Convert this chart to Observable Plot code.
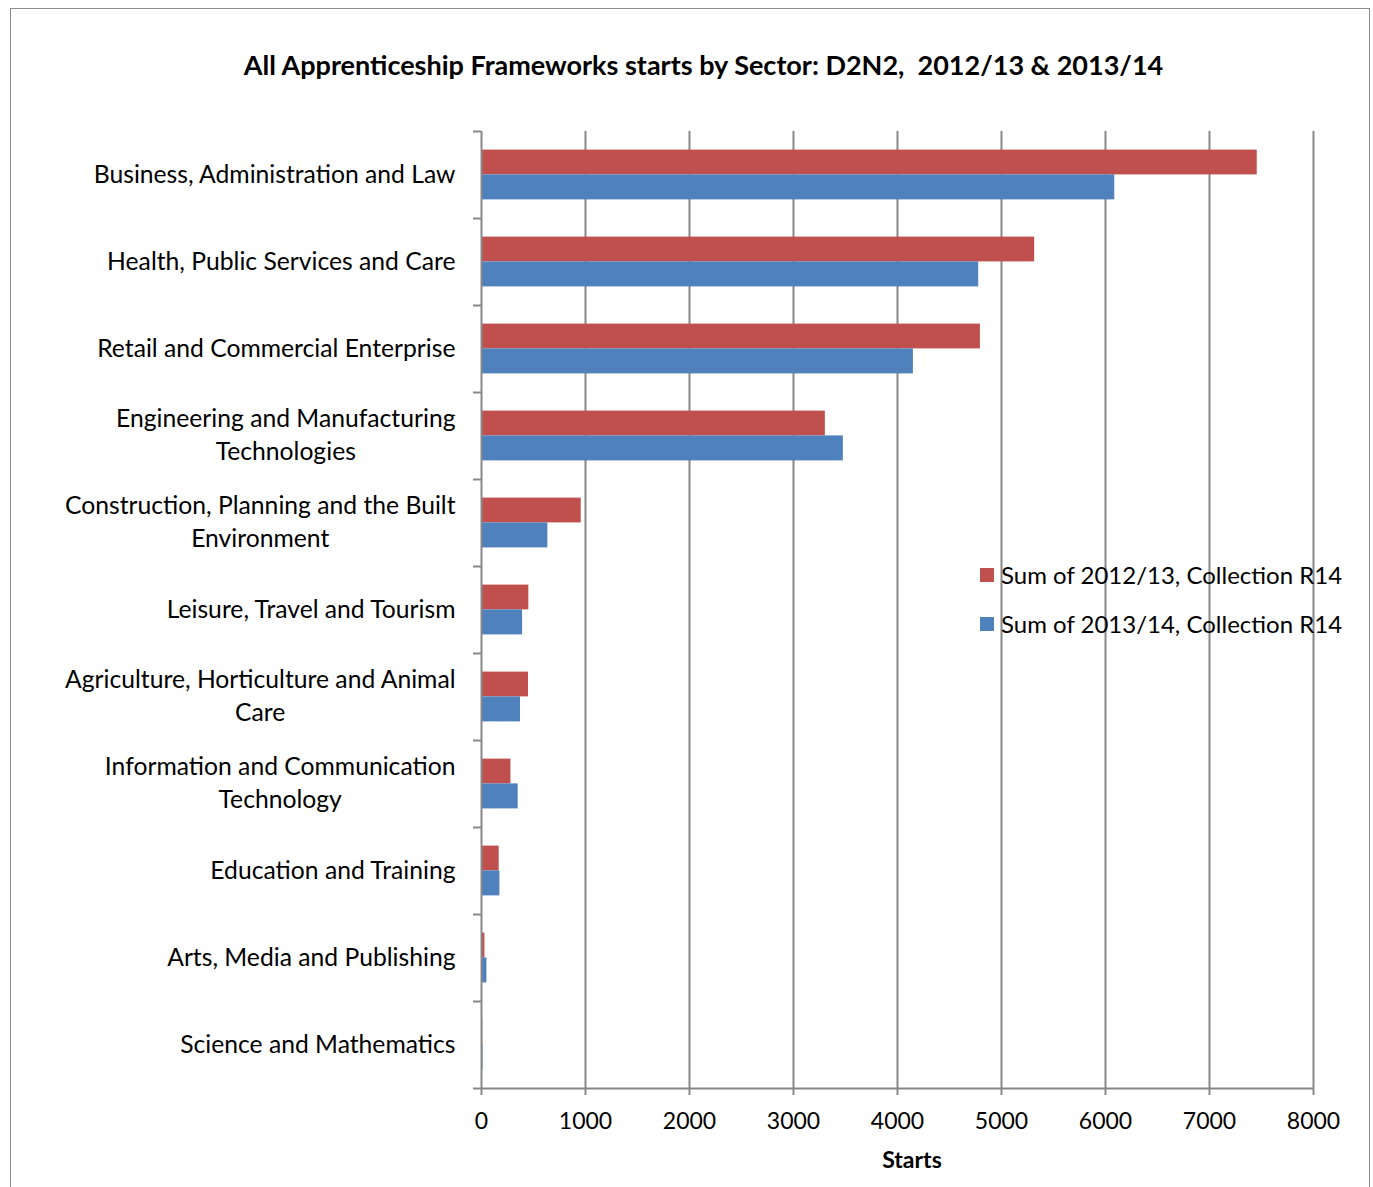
<!DOCTYPE html>
<html>
<head>
<meta charset="utf-8">
<script src="https://cdn.jsdelivr.net/npm/d3@7"></script>
<script src="https://cdn.jsdelivr.net/npm/@observablehq/plot@0.6"></script>
<style>
  html, body { margin: 0; padding: 0; background: #fff; }
  body { width: 1373px; height: 1187px; position: relative; overflow: hidden; font-family: Lato, "Open Sans", sans-serif; }
  #frame { position: absolute; left: 10px; top: 8px; width: 1360px; height: 1300px; border: 1.5px solid #8c8c8c; box-sizing: border-box; }
  #title { position: absolute; top: 48px; left: 0; width: 1407px; text-align: center; font-weight: bold; font-size: 27px; color: #000; white-space: pre; }
  #chart { position: absolute; left: 0; top: 0; }
  #xlabel { position: absolute; top: 1145px; left: 0; width: 1824px; text-align: center; font-weight: bold; font-size: 23px; color: #000; }
  #legend { position: absolute; left: 980px; top: 550px; font-size: 24px; color: #000; }
  #legend .item { display: flex; align-items: center; height: 49px; }
  #legend .sw { width: 14px; height: 14px; margin-right: 7px; }
</style>
</head>
<body>
<div id="frame"></div>
<div id="title"></div>
<div id="chart"></div>
<div id="xlabel"></div>
<div id="legend"></div>
<script>
const titleText = "All Apprenticeship Frameworks starts by Sector: D2N2,  2012/13 & 2013/14";
const xLabel = "Starts";
const categories = [
  "Business, Administration and Law",
  "Health, Public Services and Care",
  "Retail and Commercial Enterprise",
  "Engineering and Manufacturing Technologies",
  "Construction, Planning and the Built Environment",
  "Leisure, Travel and Tourism",
  "Agriculture, Horticulture and Animal Care",
  "Information and Communication Technology",
  "Education and Training",
  "Arts, Media and Publishing",
  "Science and Mathematics"
];
const categoryLabels = [
  "Business, Administration and Law",
  "Health, Public Services and Care",
  "Retail and Commercial Enterprise",
  "Engineering and Manufacturing\nTechnologies",
  "Construction, Planning and the Built\nEnvironment",
  "Leisure, Travel and Tourism",
  "Agriculture, Horticulture and Animal\nCare",
  "Information and Communication\nTechnology",
  "Education and Training",
  "Arts, Media and Publishing",
  "Science and Mathematics"
];
const seriesNames = ["Sum of 2012/13, Collection R14", "Sum of 2013/14, Collection R14"];
const seriesColors = ["#C0504D", "#4F81BD"];
const starts2012 = [7459, 5319, 4797, 3306, 959, 455, 452, 283, 170, 33, 12];
const starts2013 = [6089, 4781, 4153, 3479, 638, 395, 375, 353, 177, 52, 15];
const xTicks = [0, 1000, 2000, 3000, 4000, 5000, 6000, 7000, 8000];

const rows2012 = categories.map((c, i) => ({category: c, value: starts2012[i]}));
const rows2013 = categories.map((c, i) => ({category: c, value: starts2013[i]}));
const labelOf = new Map(categories.map((c, i) => [c, categoryLabels[i]]));
const lastCategory = categories[categories.length - 1];

const gridColor = "#888888";
const halfBand = 43.5;

const chart = Plot.plot({
  width: 1373,
  height: 1187,
  marginLeft: 481,
  marginRight: 60,
  marginTop: 131,
  marginBottom: 99,
  style: {fontFamily: "Lato, 'Open Sans', sans-serif", color: "#000", background: "transparent"},
  x: {domain: [0, 8000], ticks: xTicks},
  y: {domain: categories, paddingInner: 0, paddingOuter: 0},
  marks: [
    Plot.ruleX(xTicks.filter(d => d > 0), {stroke: gridColor, strokeWidth: 2}),
    Plot.barX(rows2012, {y: "category", x: "value", fill: seriesColors[0], insetTop: 18.6, insetBottom: 43.6}),
    Plot.barX(rows2013, {y: "category", x: "value", fill: seriesColors[1], insetTop: 43.4, insetBottom: 18.6}),
    Plot.ruleX([0], {stroke: gridColor, strokeWidth: 2}),
    Plot.ruleY(categories, {y: d => d, x1: 0, x2: 0, insetLeft: -8, dy: -halfBand, stroke: gridColor, strokeWidth: 2}),
    Plot.ruleY([lastCategory], {y: d => d, x1: 0, x2: 8000, insetLeft: -8, dy: halfBand, stroke: gridColor, strokeWidth: 2}),
    Plot.axisY({tickSize: 0, tickPadding: 26, fontSize: 24.7, lineHeight: 1.34, dy: -3, tickFormat: d => labelOf.get(d), label: null}),
    Plot.axisX({ticks: xTicks, tickSize: 7, tickPadding: 17, fontSize: 23, stroke: gridColor, strokeWidth: 2, fill: "#000", tickFormat: d => String(d), label: null}),
  ]
});
document.getElementById("chart").appendChild(chart);

// Center wrapped category labels line-by-line (as in the reference)
d3.select(chart).selectAll('g[aria-label="y-axis tick label"] text').each(function () {
  const spans = this.querySelectorAll("tspan");
  if (spans.length < 2) return;
  let maxW = 0;
  spans.forEach(s => { maxW = Math.max(maxW, s.getComputedTextLength()); });
  this.setAttribute("text-anchor", "middle");
  spans.forEach(s => s.setAttribute("x", -maxW / 2));
});

document.getElementById("title").textContent = titleText;
document.getElementById("xlabel").textContent = xLabel;
const legend = document.getElementById("legend");
seriesNames.forEach((name, i) => {
  const item = document.createElement("div");
  item.className = "item";
  const sw = document.createElement("div");
  sw.className = "sw";
  sw.style.background = seriesColors[i];
  const t = document.createElement("span");
  t.textContent = name;
  item.appendChild(sw);
  item.appendChild(t);
  legend.appendChild(item);
});
</script>
</body>
</html>
